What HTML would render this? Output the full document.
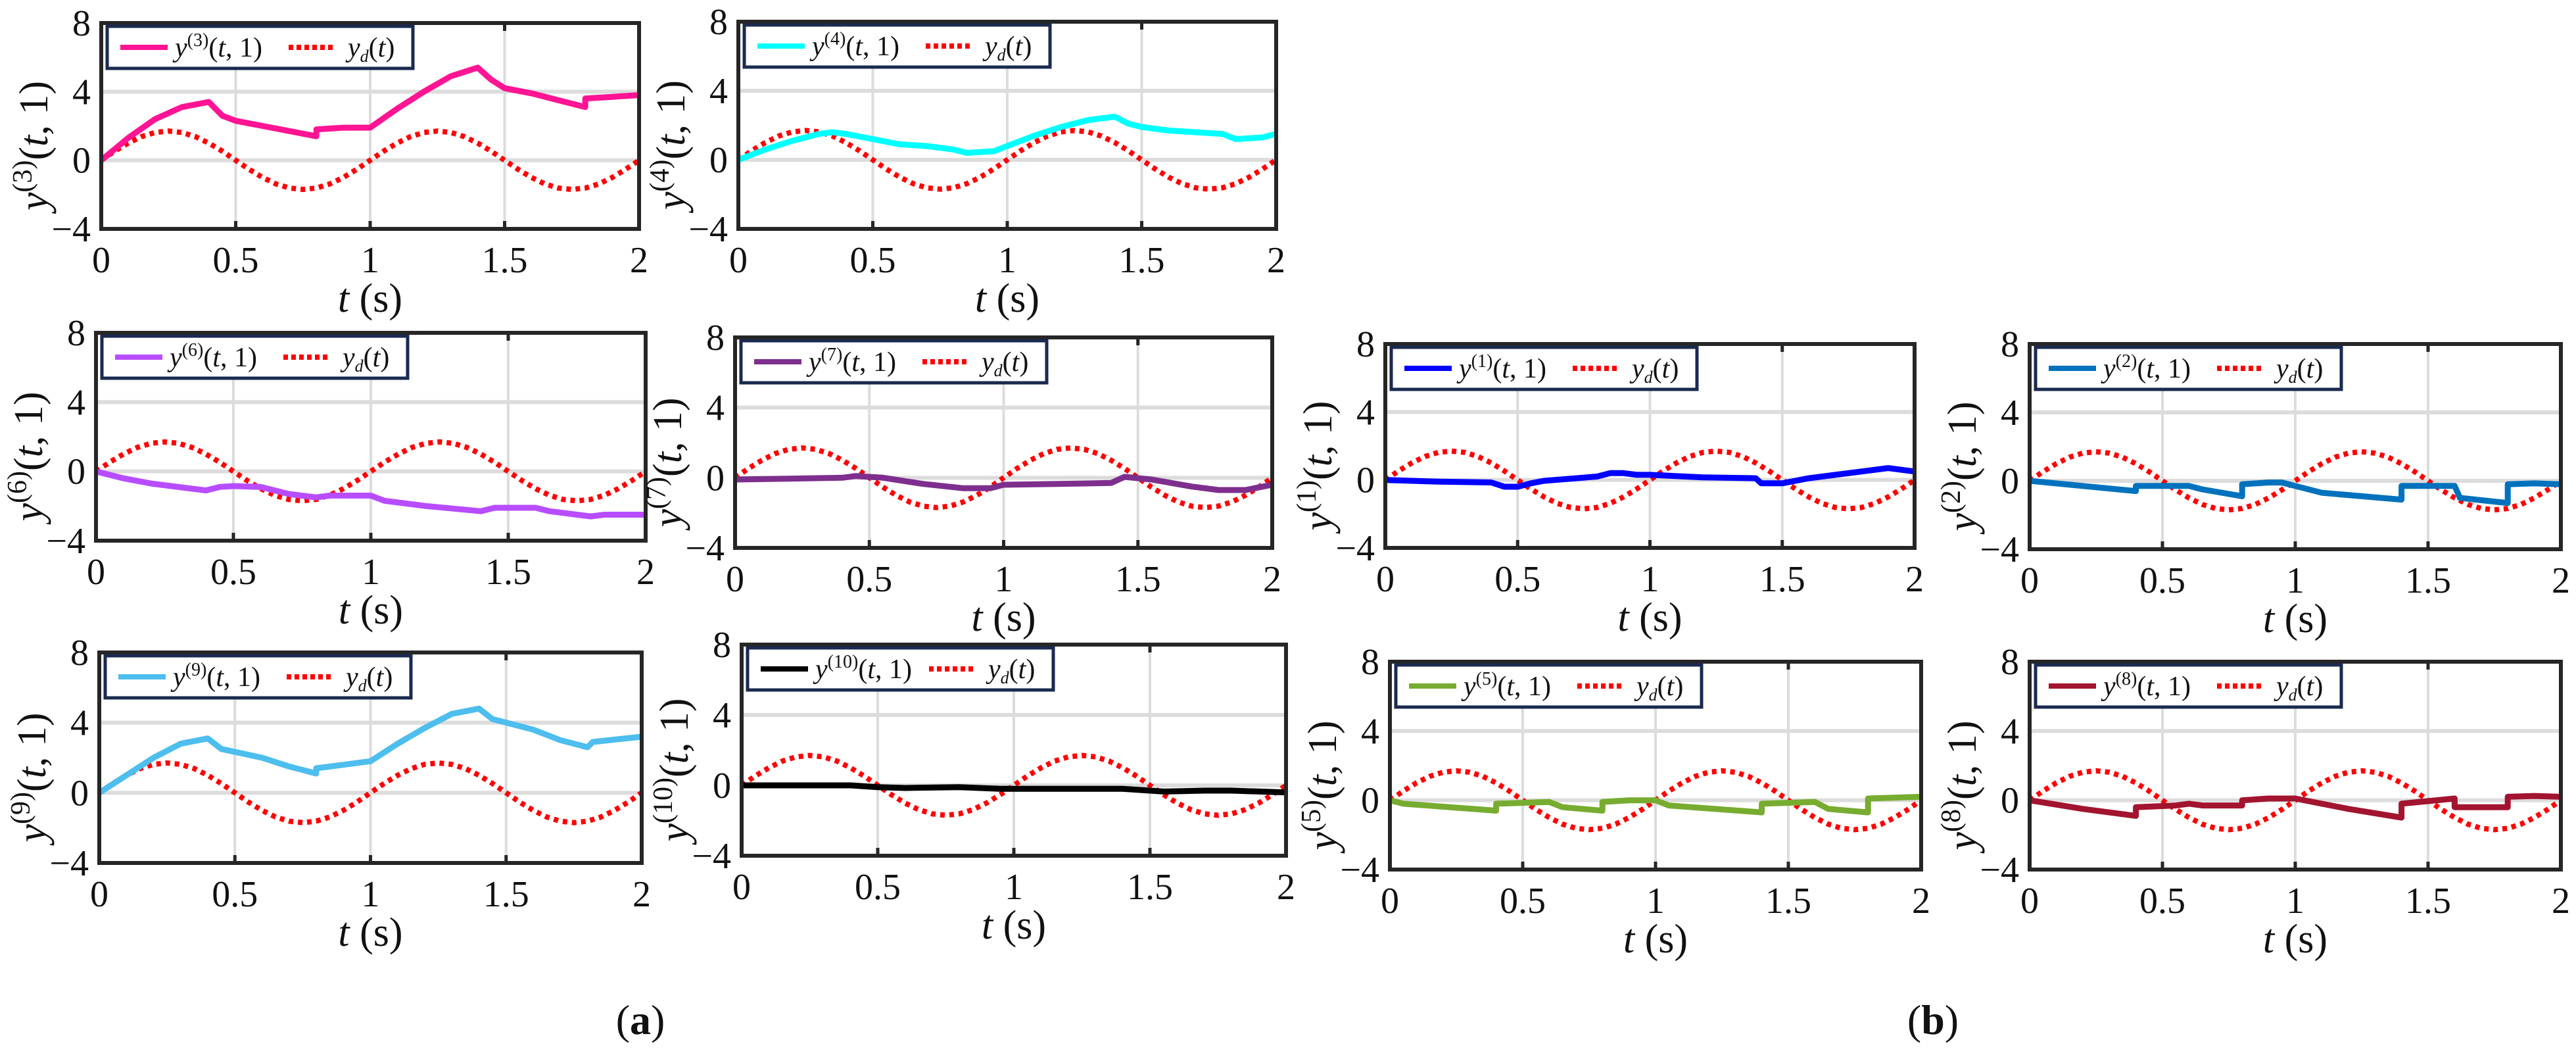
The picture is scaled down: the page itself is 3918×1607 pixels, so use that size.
<!DOCTYPE html>
<html><head><meta charset="utf-8"><style>
html,body{margin:0;padding:0;background:#fff;}
svg{display:block;font-family:"Liberation Serif","DejaVu Serif",serif;}
svg text, svg tspan{font-family:"Liberation Serif","DejaVu Serif",serif;}
text{fill:#111;}
</style></head><body>
<svg id="fig" width="3918" height="1607" viewBox="0 0 3918 1607" xmlns="http://www.w3.org/2000/svg" font-family="Liberation Serif, serif">
<text x="974" y="1572" font-size="64" text-anchor="middle" font-family="Liberation Serif, serif">(<tspan font-weight="bold">a</tspan>)</text>
<text x="2940" y="1572" font-size="64" text-anchor="middle" font-family="Liberation Serif, serif">(<tspan font-weight="bold">b</tspan>)</text>
</svg>
<script>
// shared data
const ydT = [0,0.05,0.1,0.15,0.2,0.25,0.3,0.35,0.4,0.45,0.5,0.55,0.6,0.65,0.7,0.75,0.8,0.85,0.9,0.95,1,1.05,1.1,1.15,1.2,1.25,1.3,1.35,1.4,1.45,1.5,1.55,1.6,1.65,1.7,1.75,1.8,1.85,1.9,1.95,2];
const ydV = [0,0.53,1.0,1.38,1.62,1.7,1.62,1.38,1.0,0.53,0,-0.53,-1.0,-1.38,-1.62,-1.7,-1.62,-1.38,-1.0,-0.53,0,0.53,1.0,1.38,1.62,1.7,1.62,1.38,1.0,0.53,0,-0.53,-1.0,-1.38,-1.62,-1.7,-1.62,-1.38,-1.0,-0.53,0];
const xTicks = [0,0.5,1,1.5,2];
const xTickLabels = ["0","0.5","1","1.5","2"];
const yTicks = [-4,0,4,8];
const yTickLabels = ["\u22124","0","4","8"];

const y3T = [0,0.1,0.2,0.3,0.4,0.45,0.5,0.6,0.7,0.8,0.8,0.9,1.0,1.1,1.2,1.3,1.4,1.45,1.5,1.6,1.7,1.8,1.8,1.9,2.0];
const y3V = [0,1.3,2.4,3.1,3.4,2.6,2.3,2.0,1.7,1.4,1.8,1.9,1.9,3.0,4.0,4.9,5.4,4.7,4.2,3.9,3.5,3.1,3.6,3.7,3.8];
const y4T = [0,0.1,0.2,0.3,0.35,0.4,0.5,0.6,0.7,0.8,0.85,0.95,1.0,1.1,1.2,1.3,1.4,1.45,1.5,1.6,1.7,1.8,1.85,1.95,2.0];
const y4V = [0,0.6,1.1,1.5,1.6,1.5,1.2,0.9,0.8,0.6,0.4,0.5,0.8,1.4,1.9,2.3,2.5,2.1,1.9,1.7,1.6,1.5,1.2,1.3,1.5];
const y6T = [0,0.1,0.2,0.3,0.4,0.45,0.5,0.6,0.7,0.8,0.85,1.0,1.05,1.2,1.4,1.45,1.6,1.65,1.8,1.85,2.0];
const y6V = [0,-0.4,-0.7,-0.9,-1.1,-0.9,-0.85,-0.9,-1.3,-1.5,-1.4,-1.4,-1.7,-2.0,-2.3,-2.1,-2.1,-2.3,-2.6,-2.5,-2.5];
const y7T = [0,0.2,0.4,0.45,0.55,0.7,0.85,0.95,1.0,1.2,1.4,1.45,1.55,1.7,1.8,1.9,2.0];
const y7V = [-0.1,-0.05,0,0.1,0,-0.35,-0.6,-0.6,-0.4,-0.35,-0.3,0.05,-0.1,-0.5,-0.7,-0.7,-0.4];
const y9T = [0,0.1,0.2,0.3,0.4,0.45,0.6,0.7,0.8,0.8,0.9,1.0,1.1,1.2,1.3,1.4,1.45,1.6,1.7,1.8,1.82,2.0];
const y9V = [0,1.0,2.0,2.8,3.1,2.5,2.0,1.5,1.1,1.4,1.6,1.8,2.8,3.7,4.5,4.8,4.2,3.6,3.0,2.6,2.9,3.2];
const y10T = [0,0.4,0.5,0.6,0.8,0.95,1.0,1.4,1.55,1.7,1.8,2.0];
const y10V = [0,0,-0.1,-0.15,-0.1,-0.2,-0.2,-0.2,-0.35,-0.3,-0.3,-0.4];
const y1T = [0,0.2,0.4,0.45,0.5,0.55,0.6,0.8,0.85,0.9,0.95,1.0,1.2,1.4,1.42,1.5,1.6,1.8,1.9,2.0];
const y1V = [0,-0.1,-0.15,-0.4,-0.4,-0.2,-0.05,0.2,0.4,0.4,0.3,0.3,0.15,0.1,-0.2,-0.2,0.1,0.5,0.7,0.5];
const y2T = [0,0.4,0.4,0.6,0.65,0.8,0.8,0.9,0.95,1.0,1.1,1.4,1.4,1.6,1.62,1.8,1.8,1.9,2.0];
const y2V = [0,-0.6,-0.3,-0.3,-0.5,-0.9,-0.2,-0.1,-0.1,-0.3,-0.7,-1.1,-0.3,-0.3,-1.0,-1.3,-0.2,-0.15,-0.2];
const y5T = [0,0.05,0.4,0.4,0.6,0.65,0.8,0.8,0.9,1.0,1.05,1.4,1.4,1.6,1.65,1.8,1.8,2.0];
const y5V = [0,-0.2,-0.6,-0.2,-0.1,-0.4,-0.6,-0.1,0,0,-0.3,-0.7,-0.2,-0.1,-0.5,-0.7,0.1,0.2];
const y8T = [0,0.2,0.4,0.4,0.55,0.6,0.65,0.8,0.8,0.9,1.0,1.2,1.4,1.4,1.6,1.6,1.8,1.8,1.9,2.0];
const y8V = [0,-0.5,-0.9,-0.4,-0.3,-0.2,-0.3,-0.3,0,0.1,0.1,-0.5,-1.0,-0.2,0.1,-0.4,-0.4,0.2,0.25,0.2];

const NS = "http://www.w3.org/2000/svg";
const FF = "Liberation Serif, serif";
const svg = document.getElementById('fig');
function mk(tag, attrs, parent){ const e=document.createElementNS(NS,tag); for(const k in attrs) e.setAttribute(k,attrs[k]); if(tag==='text') e.setAttribute('font-family',FF); (parent||svg).appendChild(e); return e; }
function tsp(parent, txt, attrs){ const e=document.createElementNS(NS,'tspan'); for(const k in (attrs||{})) e.setAttribute(k,attrs[k]); e.setAttribute('font-family',FF); e.textContent=txt; parent.appendChild(e); return e; }

const panels = [
 {id:'3', T:y3T, V:y3V, c:'#ff1493', x0:154, x1:972, y0:35, y1:348},
 {id:'4', T:y4T, V:y4V, c:'#00ffff', x0:1123, x1:1941, y0:33, y1:348},
 {id:'6', T:y6T, V:y6V, c:'#b84dff', x0:146, x1:982, y0:506, y1:822},
 {id:'7', T:y7T, V:y7V, c:'#7e2f8e', x0:1118, x1:1935, y0:513, y1:833},
 {id:'9', T:y9T, V:y9V, c:'#4dbeee', x0:151, x1:976, y0:992, y1:1312},
 {id:'10', T:y10T, V:y10V, c:'#000000', x0:1128, x1:1956, y0:980, y1:1301},
 {id:'1', T:y1T, V:y1V, c:'#0000ff', x0:2107, x1:2912, y0:523, y1:833},
 {id:'2', T:y2T, V:y2V, c:'#0072bd', x0:3087, x1:3895, y0:523, y1:835},
 {id:'5', T:y5T, V:y5V, c:'#77ac30', x0:2114, x1:2922, y0:1006, y1:1322},
 {id:'8', T:y8T, V:y8V, c:'#a2142f', x0:3087, x1:3895, y0:1006, y1:1322}
];

panels.forEach(p=>{
  const g = mk('g',{});
  
  
  const sx = t => p.x0 + (t-0)/(2-0)*(p.x1-p.x0);
  const sy = v => p.y1 - (v-(-4))/(8-(-4))*(p.y1-p.y0);
  xTicks.forEach(t=>{ const l=mk('line',{x1:sx(t),x2:sx(t),y1:p.y0,y2:p.y1,stroke:'#dcdcdc','stroke-width':4},g);
      });
  yTicks.forEach(v=>{ const l=mk('line',{x1:p.x0,x2:p.x1,y1:sy(v),y2:sy(v),stroke:'#dcdcdc','stroke-width':6},g);
      });
  xTicks.forEach(t=>{ mk('line',{x1:sx(t),x2:sx(t),y1:p.y1,y2:p.y1-12,stroke:'#262626','stroke-width':5},g); mk('line',{x1:sx(t),x2:sx(t),y1:p.y0,y2:p.y0+12,stroke:'#262626','stroke-width':5},g); });
  const dpts = ydT.map((t,i)=>sx(t).toFixed(1)+','+sy(ydV[i]).toFixed(1)).join(' ');
  const yd = mk('polyline',{points:dpts,fill:'none',stroke:'#ff0000','stroke-width':8,'stroke-dasharray':'7 7'},g);
   
  const pts = p.T.map((t,i)=>sx(t).toFixed(1)+','+sy(p.V[i]).toFixed(1)).join(' ');
  const s = mk('polyline',{points:pts,fill:'none',stroke:p.c,'stroke-width':9,'stroke-linejoin':'round'},g);
   
  const fr = mk('rect',{x:p.x0,y:p.y0,width:p.x1-p.x0,height:p.y1-p.y0,fill:'none',stroke:'#262626','stroke-width':6},g);
   
  xTicks.forEach((t,i)=>{ const tx=mk('text',{x:sx(t),y:p.y1+66,'font-size':56,'text-anchor':'middle'},g); tx.textContent=xTickLabels[i];
      });
  yTicks.forEach((v,i)=>{ const tx=mk('text',{x:p.x0-16,y:sy(v)+19,'font-size':56,'text-anchor':'end'},g); tx.textContent=yTickLabels[i];
      });
  const xl = mk('text',{x:(p.x0+p.x1)/2,y:p.y1+126,'font-size':62,'text-anchor':'middle'},g);
  tsp(xl,'t',{'font-style':'italic'}); tsp(xl,' (s)');
   
  const cy = (p.y0+p.y1)/2 + 30;
  const yl = mk('text',{x:0,y:0,'font-size':62,'text-anchor':'middle',transform:`translate(${p.x0-82},${cy}) rotate(-90)`},g);
  tsp(yl,'y',{'font-style':'italic'}); tsp(yl,'('+p.id+')',{'font-size':42,dy:-24}); tsp(yl,'(',{dy:24}); tsp(yl,'t',{'font-style':'italic'}); tsp(yl,', 1)');
   
  const lx = p.x0+9, ly = p.y0+5;
  const lg = mk('g',{},g);
   
  mk('rect',{x:lx,y:ly,width:465,height:64,fill:'#fff',stroke:'#1a2a50','stroke-width':5},lg);
  mk('line',{x1:lx+20,x2:lx+92,y1:ly+32,y2:ly+32,stroke:p.c,'stroke-width':8},lg);
  const lt = mk('text',{x:lx+103,y:ly+46,'font-size':42},lg);
  tsp(lt,'y',{'font-style':'italic'}); tsp(lt,'('+p.id+')',{'font-size':28,dy:-16}); tsp(lt,'(',{dy:16}); tsp(lt,'t',{'font-style':'italic'}); tsp(lt,', 1)');
   
  mk('line',{x1:lx+276,x2:lx+346,y1:ly+32,y2:ly+32,stroke:'#ff0000','stroke-width':8,'stroke-dasharray':'7 5'},lg);
  const lt2 = mk('text',{x:lx+366,y:ly+46,'font-size':42},lg);
  tsp(lt2,'y',{'font-style':'italic'}); tsp(lt2,'d',{'font-size':26,'font-style':'italic',dy:8}); tsp(lt2,'(',{dy:-8}); tsp(lt2,'t',{'font-style':'italic'}); tsp(lt2,')');
   
});
</script>
</body></html>
